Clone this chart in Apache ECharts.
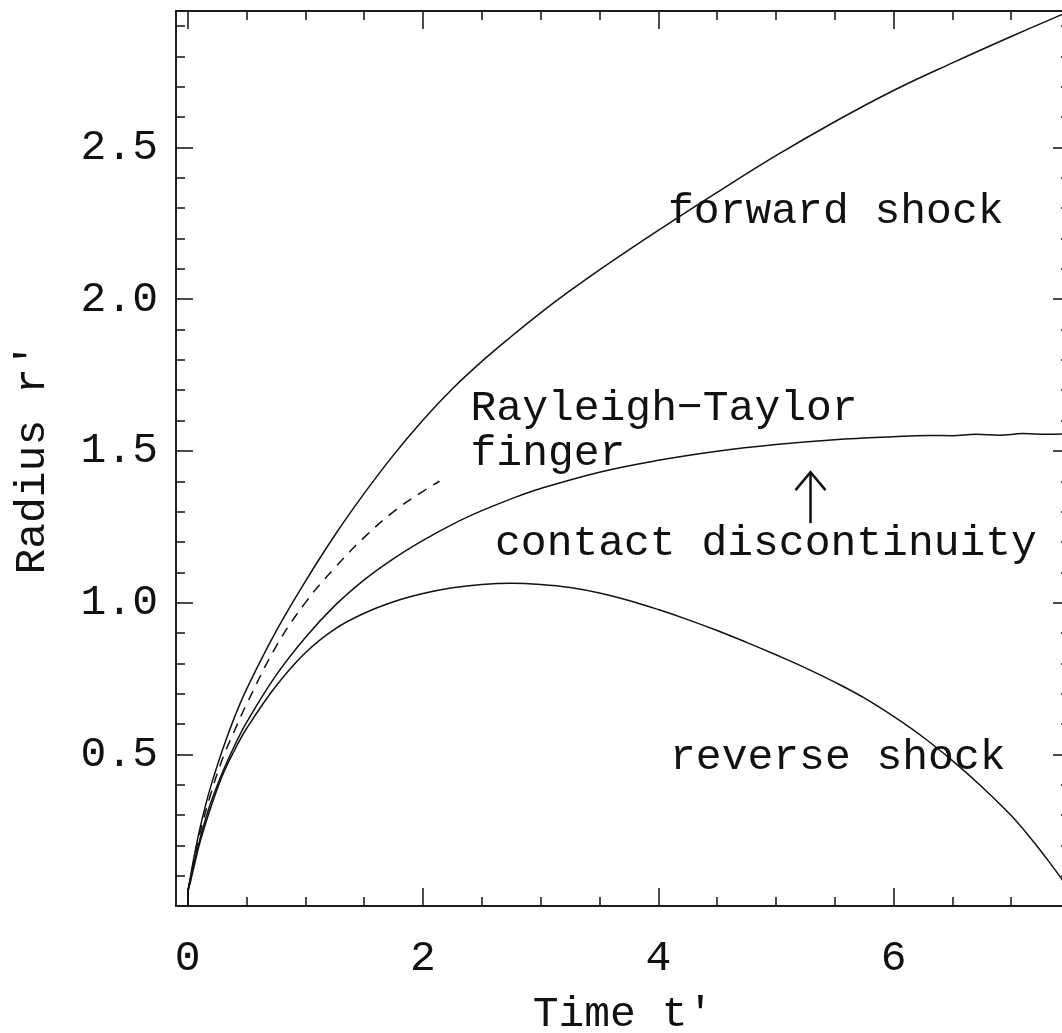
<!DOCTYPE html>
<html>
<head>
<meta charset="utf-8">
<script src="https://cdn.jsdelivr.net/npm/echarts@6/dist/echarts.min.js"></script>
<style>
  html, body { margin: 0; padding: 0; background: #fff; }
  #chart { width: 1062px; height: 1033px; }
</style>
</head>
<body>
<div id="chart"></div>
<script>
// forward shock
const fwdTime = [0, 0.005, 0.02, 0.05, 0.1, 0.15, 0.2, 0.3, 0.4, 0.5, 0.75, 1, 1.25, 1.5, 1.75, 2, 2.25, 2.5, 2.75, 3, 3.25, 3.5, 3.75, 4, 4.5, 5, 5.5, 6, 6.5, 7, 7.5];
const fwdRadius = [0, 0.055, 0.09, 0.155, 0.25, 0.33, 0.40, 0.52, 0.625, 0.715, 0.905, 1.07, 1.222, 1.36, 1.487, 1.602, 1.705, 1.795, 1.877, 1.955, 2.028, 2.097, 2.163, 2.227, 2.352, 2.473, 2.585, 2.688, 2.779, 2.866, 2.95];

// Rayleigh-Taylor finger (dashed)
const rtTime = [0, 0.005, 0.02, 0.05, 0.1, 0.2, 0.3, 0.4, 0.5, 0.75, 1, 1.25, 1.5, 1.75, 2, 2.14];
const rtRadius = [0, 0.055, 0.085, 0.145, 0.235, 0.375, 0.49, 0.58, 0.665, 0.855, 1.0, 1.115, 1.215, 1.30, 1.367, 1.40];

// contact discontinuity
const cdTime = [0, 0.005, 0.02, 0.05, 0.1, 0.15, 0.2, 0.3, 0.4, 0.5, 0.75, 1, 1.25, 1.5, 1.75, 2, 2.25, 2.5, 2.75, 3, 3.5, 4, 4.5, 5, 5.5, 6, 6.3, 6.5, 6.7, 6.9, 7.1, 7.3, 7.5];
const cdRadius = [0, 0.055, 0.08, 0.135, 0.215, 0.285, 0.345, 0.445, 0.53, 0.605, 0.76, 0.885, 0.99, 1.075, 1.145, 1.205, 1.258, 1.303, 1.342, 1.376, 1.43, 1.469, 1.499, 1.521, 1.537, 1.547, 1.551, 1.550, 1.555, 1.552, 1.557, 1.555, 1.557];

// reverse shock
const rsTime = [0, 0.005, 0.02, 0.05, 0.1, 0.15, 0.2, 0.3, 0.4, 0.5, 0.75, 1, 1.25, 1.5, 1.75, 2, 2.25, 2.5, 2.75, 3, 3.25, 3.5, 3.75, 4, 4.25, 4.5, 4.75, 5, 5.25, 5.5, 5.75, 6, 6.25, 6.5, 6.75, 7, 7.2, 7.3, 7.4, 7.5];
const rsRadius = [0, 0.055, 0.075, 0.125, 0.205, 0.27, 0.33, 0.435, 0.515, 0.585, 0.725, 0.835, 0.913, 0.965, 1.003, 1.03, 1.049, 1.06, 1.064, 1.06, 1.05, 1.032, 1.007, 0.977, 0.944, 0.908, 0.869, 0.828, 0.785, 0.738, 0.686, 0.625, 0.557, 0.479, 0.393, 0.298, 0.207, 0.157, 0.105, 0.05];

// ticks
const xMajorTicks = [0, 2, 4, 6];
const xMinorTicks = [0.5, 1, 1.5, 2.5, 3, 3.5, 4.5, 5, 5.5, 6.5, 7, 7.5];
const yMajorTicks = [0.5, 1.0, 1.5, 2.0, 2.5];
const yMinorTicks = [0.1, 0.2, 0.3, 0.4, 0.6, 0.7, 0.8, 0.9, 1.1, 1.2, 1.3, 1.4, 1.6, 1.7, 1.8, 1.9, 2.1, 2.2, 2.3, 2.4, 2.6, 2.7, 2.8, 2.9];

const FONT = "'Liberation Mono', 'DejaVu Sans Mono', monospace";
const FS = 43;
const INK = '#111';

function pairs(ts, rs) {
  return ts.map((t, i) => [t, rs[i]]);
}

function xAxis(position, ticks, len, labels) {
  return {
    type: 'value', position, min: -0.1, max: 7.5,
    axisLine: { show: true, onZero: false, lineStyle: { color: INK, width: 1.5 } },
    axisTick: { show: true, inside: true, length: len, customValues: ticks, lineStyle: { color: INK, width: 1.5 } },
    axisLabel: { show: labels, customValues: ticks, margin: 31, fontFamily: FONT, fontSize: FS, color: INK, formatter: v => String(v) },
    splitLine: { show: false }
  };
}

function yAxis(position, ticks, len, labels) {
  return {
    type: 'value', position, min: 0, max: 2.95,
    axisLine: { show: true, onZero: false, lineStyle: { color: INK, width: 1.5 } },
    axisTick: { show: true, inside: true, length: len, customValues: ticks, lineStyle: { color: INK, width: 1.5 } },
    axisLabel: { show: labels, customValues: ticks, margin: 18, fontFamily: FONT, fontSize: FS, color: INK, formatter: v => v.toFixed(1) },
    splitLine: { show: false }
  };
}

const xMain = xAxis('bottom', xMajorTicks, 18, true);
xMain.name = 'Time t′';
xMain.nameLocation = 'middle';
xMain.nameGap = 87;
xMain.nameTextStyle = { fontFamily: FONT, fontSize: FS, color: INK };

const yMain = yAxis('left', yMajorTicks, 17, true);
yMain.name = 'Radius r′';
yMain.nameLocation = 'middle';
yMain.nameGap = 122;
yMain.nameTextStyle = { fontFamily: FONT, fontSize: FS, color: INK };

function curve(name, ts, rs, dashed) {
  return {
    name, type: 'line', xAxisIndex: 0, yAxisIndex: 0,
    data: pairs(ts, rs),
    showSymbol: false, smooth: 0.4,
    lineStyle: { color: INK, width: 1.5, type: dashed ? [10, 8] : 'solid' },
    animation: false
  };
}

const chart = echarts.init(document.getElementById('chart'));
chart.setOption({
  animation: false,
  backgroundColor: '#fff',
  grid: { left: 176, right: -8, top: 11, bottom: 127, containLabel: false, outerBoundsMode: 'none' },
  xAxis: [
    xMain,
    xAxis('bottom', xMinorTicks, 9, false),
    xAxis('top', xMajorTicks, 18, false),
    xAxis('top', xMinorTicks, 9, false)
  ],
  yAxis: [
    yMain,
    yAxis('left', yMinorTicks, 9, false),
    yAxis('right', yMajorTicks, 17, false),
    yAxis('right', yMinorTicks, 9, false)
  ],
  series: [
    curve('forward shock', fwdTime, fwdRadius, false),
    curve('Rayleigh-Taylor finger', rtTime, rtRadius, true),
    curve('contact discontinuity', cdTime, cdRadius, false),
    curve('reverse shock', rsTime, rsRadius, false)
  ]
});

// annotation anchors in data units (left edge, text middle)
const notes = [
  { text: 'forward shock', t: 4.083, r: 2.29 },
  { text: 'Rayleigh−Taylor', t: 2.404, r: 1.641 },
  { text: 'finger', t: 2.404, r: 1.490 },
  { text: 'contact discontinuity', t: 2.612, r: 1.193 },
  { text: 'reverse shock', t: 4.10, r: 0.488 }
];
const arrowT = 5.294, arrowTail = 1.262, arrowTip = 1.430;

const px = (t, r) => chart.convertToPixel({ gridIndex: 0 }, [t, r]);
const graphics = notes.map(n => {
  const p = px(n.t, n.r);
  return {
    type: 'text', x: p[0], y: p[1], silent: true,
    style: { text: n.text, font: FS + 'px ' + FONT, fill: INK, align: 'left', verticalAlign: 'middle' }
  };
});
const tail = px(arrowT, arrowTail), tip = px(arrowT, arrowTip);
graphics.push({
  type: 'polyline', silent: true,
  shape: { points: [tail, tip] },
  style: { stroke: INK, lineWidth: 2.5, fill: null }
});
graphics.push({
  type: 'polyline', silent: true,
  shape: { points: [[tip[0] - 15, tip[1] + 18], tip, [tip[0] + 15, tip[1] + 18]] },
  style: { stroke: INK, lineWidth: 2.5, fill: null }
});
chart.setOption({ graphic: graphics });
</script>
</body>
</html>
